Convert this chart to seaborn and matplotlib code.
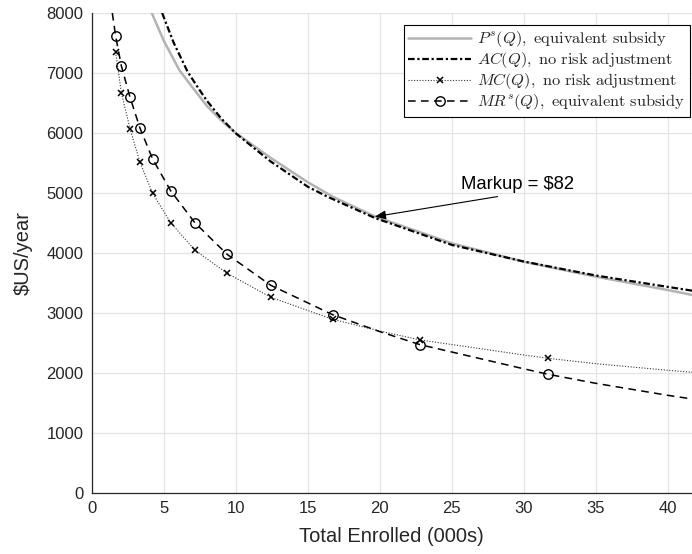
import numpy as np
import pandas as pd
import matplotlib
matplotlib.use("Agg")
import matplotlib.pyplot as plt
from matplotlib.lines import Line2D
import seaborn as sns

# ---- data ----
# marker positions (shared Q values, thousands enrolled)
marker_q = [1.66, 2.06, 2.66, 3.35, 4.23, 5.48, 7.16, 9.40, 12.43, 16.73, 22.8, 31.7]
mc_marker_v = [7350, 6672, 6072, 5512, 4995, 4505, 4050, 3662, 3262, 2895, 2550, 2245]
mr_marker_v = [7617, 7117, 6595, 6083, 5567, 5038, 4505, 3978, 3462, 2972, 2472, 1978]

# curve points
mc_line_q = [1.66, 2.06, 2.66, 3.35, 4.23, 5.48, 7.16, 9.40, 12.43, 16.73, 20.0, 22.8, 25.0, 30.0, 31.7, 35.0, 40.0, 41.7]
mc_line_v = [7350, 6672, 6072, 5512, 4995, 4505, 4050, 3662, 3262, 2895, 2700, 2550, 2475, 2300, 2245, 2155, 2045, 2012]
mr_line_q = [1.43, 1.66, 2.06, 2.66, 3.35, 4.23, 5.48, 7.16, 9.40, 12.43, 16.73, 20.0, 22.8, 25.0, 30.0, 31.7, 35.0, 40.0, 41.7]
mr_line_v = [8000, 7617, 7117, 6595, 6083, 5567, 5038, 4505, 3978, 3462, 2972, 2690, 2472, 2350, 2070, 1978, 1828, 1628, 1567]
ac_q = [4.89, 5.7, 6.66, 7.34, 7.99, 9.0, 10.0, 12.4, 15.0, 16.4, 19.65, 25.0, 30.0, 35.0, 40.0, 41.7]
ac_v = [8000, 7500, 7020, 6770, 6540, 6240, 5995, 5530, 5105, 4935, 4585, 4135, 3858, 3625, 3435, 3372]
ps_q = [4.17, 5.0, 6.08, 7.06, 8.0, 9.0, 10.0, 12.4, 15.0, 16.8, 19.65, 25.0, 30.0, 35.0, 40.0, 41.7]
ps_v = [8000, 7540, 7050, 6740, 6450, 6210, 6000, 5590, 5180, 4930, 4610, 4161, 3855, 3606, 3383, 3300]

labels = [r"$P^s(Q)\mathrm{,\ equivalent\ subsidy}$",
          r"$AC(Q)\mathrm{,\ no\ risk\ adjustment}$",
          r"$MC(Q)\mathrm{,\ no\ risk\ adjustment}$",
          r"$MR^s(Q)\mathrm{,\ equivalent\ subsidy}$"]
x_ticks = [0, 5, 10, 15, 20, 25, 30, 35, 40]
y_ticks = [0, 1000, 2000, 3000, 4000, 5000, 6000, 7000, 8000]
markup_q, markup_v = 19.65, 4605
markup_text = r"Markup = \$82"

# ---- style ----
sns.set_theme(style="white")
plt.rcParams["font.family"] = ["Liberation Sans", "DejaVu Sans"]
plt.rcParams["mathtext.fontset"] = "cm"

fig = plt.figure(figsize=(6.92, 5.54), dpi=100)
ax = fig.add_axes([91.7 / 692, 61 / 554, (692 - 91.7) / 692, 480 / 554])

gray = "#b3b3b3"
ac_ls = (0, (3.0, 1.2, 1.0, 1.2))
mc_ls = (0, (1, 1.5))
mr_ls = (0, (5, 3.5))
sns.lineplot(x=ps_q, y=ps_v, ax=ax, color=gray, lw=1.8, sort=False, estimator=None, zorder=2)
sns.lineplot(x=ac_q, y=ac_v, ax=ax, color="black", lw=1.6, sort=False, estimator=None,
             linestyle=ac_ls, zorder=3)
sns.lineplot(x=mc_line_q, y=mc_line_v, ax=ax, color="#333333", lw=0.8, sort=False, estimator=None,
             linestyle=mc_ls, zorder=3)
sns.lineplot(x=mr_line_q, y=mr_line_v, ax=ax, color="black", lw=1.1, sort=False, estimator=None,
             linestyle=mr_ls, zorder=3)
ax.plot(marker_q, mc_marker_v, linestyle="none", marker="x", ms=4.5, mew=1.1, color="black", zorder=4)
ax.plot(marker_q, mr_marker_v, linestyle="none", marker="o", ms=6.8, mew=1.0,
        mfc="none", mec="black", zorder=4)

ax.set_xlim(0, 41.68)
ax.set_ylim(0, 8000)
ax.set_xticks(x_ticks)
ax.set_yticks(y_ticks)
ax.grid(True, color="#e3e3e3", lw=0.9)
ax.set_axisbelow(True)
for s in ["top", "right"]:
    ax.spines[s].set_visible(False)
for s in ["left", "bottom"]:
    ax.spines[s].set_color("#262626")
    ax.spines[s].set_linewidth(0.9)
ax.tick_params(direction="in", length=5, width=0.8, colors="#262626", labelsize=12,
               labelcolor="#262626", pad=6)
ax.set_xlabel("Total Enrolled (000s)", fontsize=14.5, color="#262626", labelpad=8)
ax.set_ylabel(r"\$US/year", fontsize=14.5, color="#262626", labelpad=10)

ax.annotate(markup_text, xy=(markup_q, markup_v), xytext=(25.65, 5062),
            fontsize=13.3, color="black", ha="left", va="baseline",
            arrowprops=dict(arrowstyle="-|>,head_length=0.5,head_width=0.2", color="black",
                            lw=0.8, shrinkA=0, shrinkB=0,
                            relpos=(0.5, 0.0)))

handles = [
    Line2D([], [], color=gray, lw=1.8),
    Line2D([], [], color="black", lw=1.6, linestyle=ac_ls),
    Line2D([], [], color="#333333", lw=0.8, linestyle=mc_ls, marker="x", ms=4.5, mew=1.1, mec="black"),
    Line2D([], [], color="black", lw=1.1, linestyle=mr_ls, marker="o", ms=6.8, mfc="none", mec="black"),
]
leg = ax.legend(handles, labels, loc="upper right", bbox_to_anchor=(0.997, 0.976),
                fontsize=11.8, frameon=True, fancybox=False, framealpha=1, edgecolor="black",
                handlelength=3.8, handletextpad=0.4, labelspacing=0.06, borderpad=0.3,
                borderaxespad=0.0)
leg.get_frame().set_linewidth(0.8)

fig.savefig("out.png", dpi=100)
